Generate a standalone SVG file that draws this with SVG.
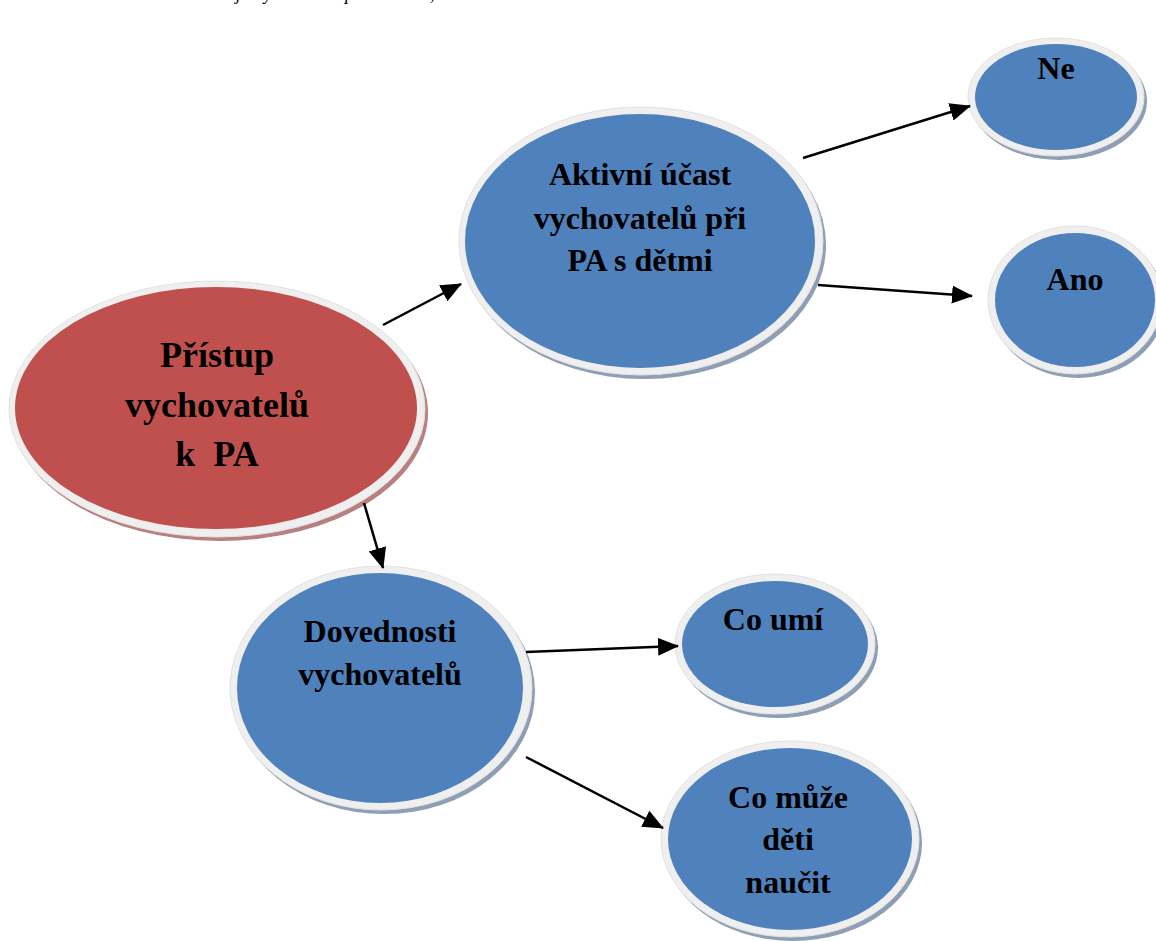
<svg xmlns="http://www.w3.org/2000/svg" width="1156" height="941" viewBox="0 0 1156 941">
  <style>
    .ring { fill: #efefef; stroke: #e2e2e2; stroke-width: 1; }
    .shadow-blue { fill: #8e9fb5; }
    .shadow-red { fill: #b88080; }
    .blue { fill: #4f81bd; }
    .red { fill: #c0504d; }
    .lbl { font-family: "Liberation Serif", "Times New Roman", serif; font-weight: bold; fill: #000; text-anchor: middle; }
    .big { font-size: 36px; }
    .mid { font-size: 32px; }
    .edge { stroke: #000; stroke-width: 2.5; fill: none; marker-end: url(#arrow); }
    .clip-line { font-family: "Liberation Serif", "Times New Roman", serif; font-style: italic; font-size: 18px; fill: #000; }
  </style>
  <defs>
    <marker id="arrow" markerUnits="userSpaceOnUse" markerWidth="22" markerHeight="18" refX="20" refY="9" orient="auto">
      <path d="M0,0 L21,9 L0,18 Z" fill="#000"/>
    </marker>
  </defs>

  <rect width="1156" height="941" fill="#fff"/>

  <!-- descenders of the caption line running off the top edge -->
  <text class="clip-line" y="-0.5"><tspan x="236">j</tspan><tspan x="264">y</tspan><tspan x="345">p</tspan><tspan x="430">,</tspan></text>

  <!-- root node -->
  <g id="node-pristup">
    <ellipse class="shadow-red" cx="220" cy="413" rx="208" ry="128"/>
    <ellipse class="ring" cx="217" cy="409" rx="208" ry="128"/>
    <ellipse class="red" cx="216" cy="408" rx="201" ry="121"/>
    <text class="lbl big" x="217" y="367">Přístup</text>
    <text class="lbl big" x="217" y="417">vychovatelů</text>
    <text class="lbl big" x="217" y="466" xml:space="preserve">k  PA</text>
  </g>

  <g id="node-aktivni">
    <ellipse class="shadow-blue" cx="644" cy="245" rx="182" ry="134"/>
    <ellipse class="ring" cx="641" cy="241" rx="182" ry="134"/>
    <ellipse class="blue" cx="640" cy="241" rx="175" ry="127"/>
    <text class="lbl mid" x="640" y="185">Aktivní účast</text>
    <text class="lbl mid" x="640" y="229">vychovatelů při</text>
    <text class="lbl mid" x="640" y="271">PA s dětmi</text>
  </g>

  <g id="node-ne">
    <ellipse class="shadow-blue" cx="1059" cy="101" rx="88" ry="59"/>
    <ellipse class="ring" cx="1056" cy="97" rx="88" ry="59"/>
    <ellipse class="blue" cx="1056" cy="97" rx="81" ry="53"/>
    <text class="lbl mid" x="1056" y="79">Ne</text>
  </g>

  <g id="node-ano">
    <ellipse class="shadow-blue" cx="1078" cy="304" rx="87" ry="74"/>
    <ellipse class="ring" cx="1075" cy="300" rx="87" ry="74"/>
    <ellipse class="blue" cx="1075" cy="300" rx="80" ry="67"/>
    <text class="lbl mid" x="1075" y="290">Ano</text>
  </g>

  <g id="node-dovednosti">
    <ellipse class="shadow-blue" cx="384" cy="692" rx="151" ry="122"/>
    <ellipse class="ring" cx="381" cy="688" rx="151" ry="122"/>
    <ellipse class="blue" cx="380" cy="688" rx="143" ry="115"/>
    <text class="lbl mid" x="380" y="642">Dovednosti</text>
    <text class="lbl mid" x="380" y="685">vychovatelů</text>
  </g>

  <g id="node-co-umi">
    <ellipse class="shadow-blue" cx="778" cy="648" rx="100" ry="70"/>
    <ellipse class="ring" cx="775" cy="644" rx="100" ry="70"/>
    <ellipse class="blue" cx="775" cy="644" rx="93" ry="63"/>
    <text class="lbl mid" x="773" y="630">Co umí</text>
  </g>

  <g id="node-co-muze">
    <ellipse class="shadow-blue" cx="793" cy="843" rx="129" ry="98"/>
    <ellipse class="ring" cx="790" cy="839" rx="129" ry="98"/>
    <ellipse class="blue" cx="790" cy="839" rx="122" ry="91"/>
    <text class="lbl mid" x="788" y="808">Co může</text>
    <text class="lbl mid" x="788" y="850">děti</text>
    <text class="lbl mid" x="788" y="893">naučit</text>
  </g>

  <g id="connectors">
    <line class="edge" x1="383" y1="325" x2="461" y2="284"/>
    <line class="edge" x1="364" y1="503" x2="383" y2="568"/>
    <line class="edge" x1="803" y1="158" x2="970" y2="106"/>
    <line class="edge" x1="818" y1="285" x2="972" y2="296"/>
    <line class="edge" x1="526" y1="652" x2="678" y2="646"/>
    <line class="edge" x1="526" y1="757" x2="663" y2="828"/>
  </g>
</svg>
